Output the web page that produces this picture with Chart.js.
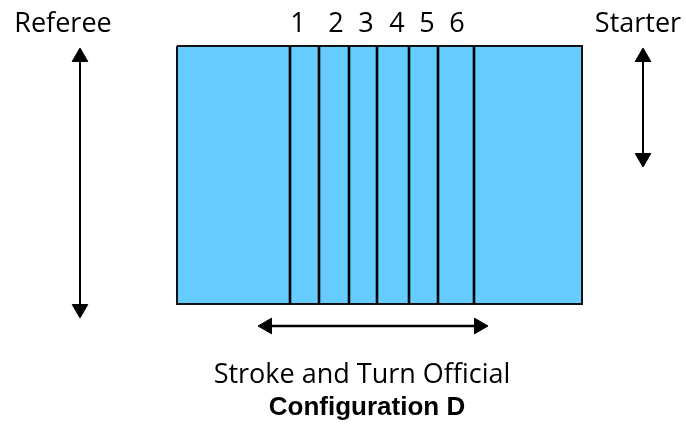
<!DOCTYPE html>
<html>
<head>
<meta charset="utf-8">
<script src="https://cdn.jsdelivr.net/npm/chart.js@4.4.1/dist/chart.umd.min.js"></script>
<style>
html,body{margin:0;padding:0;background:#fff;}
canvas{display:block;}
</style>
</head>
<body>
<canvas id="c" width="686" height="436"></canvas>
<script>
// Diagram data (in diagram units)
const poolX = [177, 582];
const poolY = [46, 304];
const laneLines = [290, 319, 349, 377, 409, 438, 474];
const laneLabels = ['1', '2', '3', '4', '5', '6'];
const laneLabelX = [298, 336, 366, 397, 427, 457];
const laneLabelY = 32;
const refereeArrow = {x: 80, y: [48, 318]};
const starterArrow = {x: 643, y: [48, 167]};
const strokeArrow = {y: 326, x: [258, 488]};
const textLabels = ['Referee', 'Starter', 'Stroke and Turn Official', 'Configuration D'];
const textX = [63, 638, 362, 367];
const textY = [32, 32, 383, 415];

const HEAD = 9;
function arrowDataset(p1, p2, rot1, rot2, width) {
  return {
    type: 'line',
    order: 0,
    data: [p1, p2],
    borderColor: '#000',
    borderWidth: width,
    pointStyle: 'triangle',
    pointRadius: HEAD,
    pointRotation: [rot1, rot2],
    pointBackgroundColor: '#000',
    pointBorderColor: '#000',
    pointBorderWidth: 1,
    fill: false,
    tension: 0
  };
}

const datasets = [];
// pool (drawn first, below everything)
datasets.push({
  type: 'line',
  order: 10,
  data: [
    {x: poolX[0], y: poolY[0]}, {x: poolX[1], y: poolY[0]},
    {x: poolX[1], y: poolY[1]}, {x: poolX[0], y: poolY[1]},
    {x: poolX[0], y: poolY[0]}
  ],
  borderColor: '#111',
  borderWidth: 2,
  backgroundColor: '#66CCFF',
  fill: 'shape',
  pointRadius: 0,
  tension: 0
});
// lane lines
laneLines.forEach(x => datasets.push({
  type: 'line',
  order: 1,
  data: [{x: x, y: poolY[0]}, {x: x, y: poolY[1]}],
  borderColor: '#000',
  borderWidth: 2.6,
  pointRadius: 0,
  fill: false
}));
// arrows (head centre offset so the tip lands at the end value)
datasets.push(arrowDataset({x: refereeArrow.x, y: refereeArrow.y[0] + HEAD}, {x: refereeArrow.x, y: refereeArrow.y[1] - HEAD}, 0, 180, 2));
datasets.push(arrowDataset({x: starterArrow.x, y: starterArrow.y[0] + HEAD}, {x: starterArrow.x, y: starterArrow.y[1] - HEAD}, 0, 180, 2));
datasets.push(arrowDataset({x: strokeArrow.x[0] + HEAD, y: strokeArrow.y}, {x: strokeArrow.x[1] - HEAD, y: strokeArrow.y}, 270, 90, 2.6));

const textPlugin = {
  id: 'texts',
  afterDatasetsDraw(chart) {
    const ctx = chart.ctx, sx = chart.scales.x, sy = chart.scales.y;
    ctx.save();
    ctx.fillStyle = '#000';
    ctx.textAlign = 'center';
    ctx.textBaseline = 'alphabetic';
    ctx.font = '27px "Open Sans"';
    laneLabels.forEach((t, i) => ctx.fillText(t, sx.getPixelForValue(laneLabelX[i]), sy.getPixelForValue(laneLabelY)));
    textLabels.forEach((t, i) => {
      ctx.font = i === 3 ? 'bold 26px "Liberation Sans"' : '27px "Open Sans"';
      ctx.fillText(t, sx.getPixelForValue(textX[i]), sy.getPixelForValue(textY[i]));
    });
    ctx.restore();
  }
};

new Chart(document.getElementById('c'), {
  type: 'line',
  data: {datasets},
  options: {
    responsive: false,
    devicePixelRatio: 1,
    animation: false,
    layout: {padding: 0, autoPadding: false},
    plugins: {legend: {display: false}, tooltip: {enabled: false}},
    scales: {
      x: {type: 'linear', min: 0, max: 686, display: false},
      y: {type: 'linear', min: 0, max: 436, reverse: true, display: false}
    }
  },
  plugins: [textPlugin]
});
</script>
</body>
</html>
